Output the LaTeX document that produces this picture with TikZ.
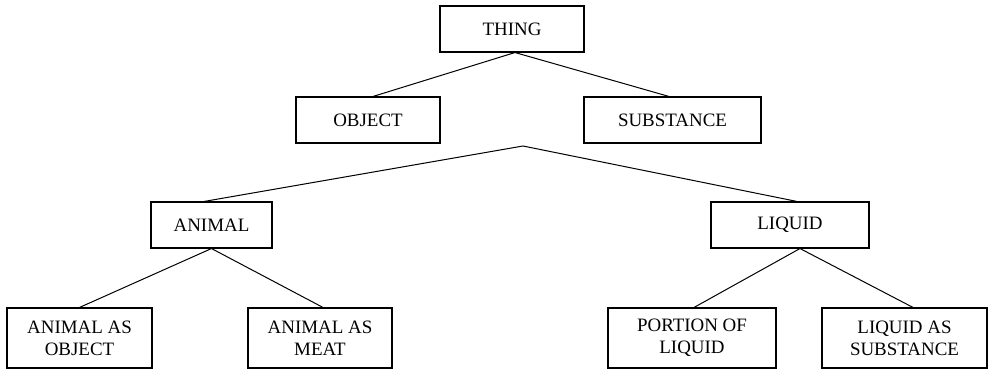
\documentclass[tikz,border=0pt]{standalone}
\usepackage{fontspec}
\setmainfont{Liberation Serif}
\begin{document}
\begin{tikzpicture}[x=0.75pt,y=-0.75pt,
  box/.style={draw,line width=0.8pt,inner sep=0pt,align=center,
    font=\fontsize{14.2}{16.6}\selectfont},
  wire/.style={line width=0.75pt}]
\useasboundingbox[fill=white] (0,0) rectangle (990,370);
\node[box,minimum width=108pt,minimum height=34.5pt] (thing) at (512,29) {THING};
\node[box,minimum width=108pt,minimum height=34.5pt] (object) at (368,120) {OBJECT};
\node[box,minimum width=132.75pt,minimum height=34.5pt] (substance) at (672.5,120) {SUBSTANCE};
\node[box,minimum width=90.75pt,minimum height=34.5pt] (animal) at (211.5,225) {ANIMAL};
\node[box,minimum width=118.5pt,minimum height=34.5pt] (liquid) at (790,225) {LIQUID};
\node[box,minimum width=108.75pt,minimum height=45pt] (aao) at (79.5,338) {ANIMAL AS\\OBJECT};
\node[box,minimum width=108pt,minimum height=45pt] (aam) at (320,338) {ANIMAL AS\\MEAT};
\node[box,minimum width=126pt,minimum height=45pt] (pol) at (692,338) {PORTION OF\\LIQUID};
\node[box,minimum width=123.75pt,minimum height=45pt] (las) at (904.5,338) {LIQUID AS\\SUBSTANCE};
\coordinate (apex) at (523,146);
\draw[wire] ([xshift=2.25pt]thing.south) -- ([xshift=3.75pt]object.north);
\draw[wire] ([xshift=2.25pt]thing.south) -- ([xshift=-2.6pt]substance.north);
\draw[wire] ([xshift=-5.6pt]animal.north) -- (apex) -- ([xshift=5.25pt]liquid.north);
\draw[wire] (animal.south) -- (aao.north);
\draw[wire] (animal.south) -- ([xshift=2.25pt]aam.north);
\draw[wire] ([xshift=7.5pt]liquid.south) -- ([xshift=1.5pt]pol.north);
\draw[wire] ([xshift=7.5pt]liquid.south) -- ([xshift=6.4pt]las.north);
\end{tikzpicture}
\end{document}
